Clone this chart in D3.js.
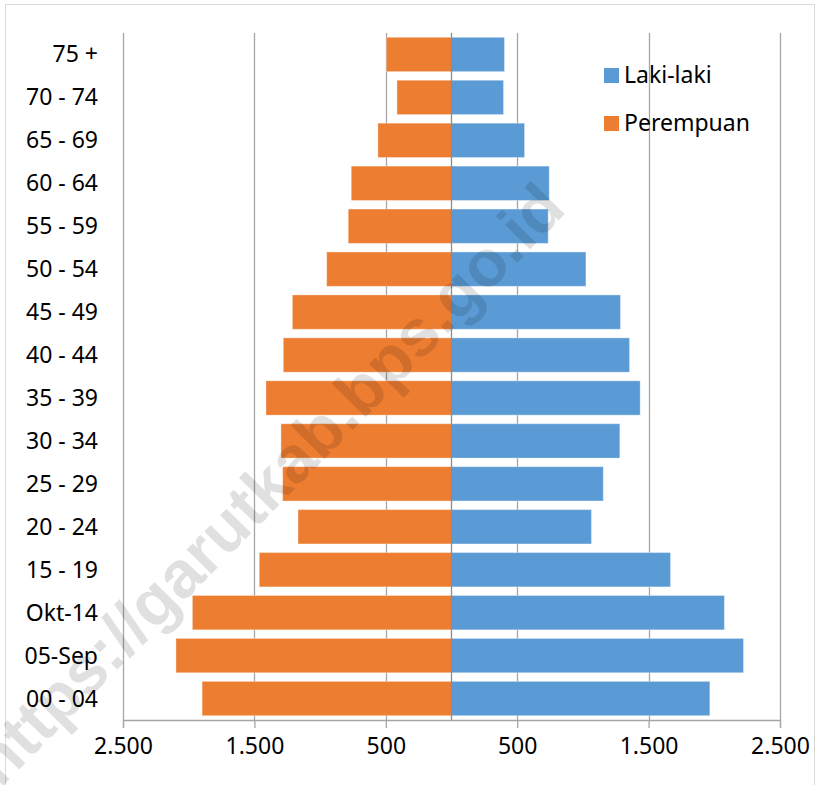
<!DOCTYPE html>
<html>
<head>
<meta charset="utf-8">
<script src="https://cdn.jsdelivr.net/npm/d3@7"></script>
<style>
  body { margin: 0; background: #fff; }
  svg { display: block; font-family: "Noto Sans", sans-serif; }
</style>
</head>
<body>
<svg id="chart" width="821" height="785"></svg>
<script>
// age groups, top of the pyramid first
var ageGroups = ["75 +", "70 - 74", "65 - 69", "60 - 64", "55 - 59", "50 - 54", "45 - 49", "40 - 44",
  "35 - 39", "30 - 34", "25 - 29", "20 - 24", "15 - 19", "Okt-14", "05-Sep", "00 - 04"];
var perempuan = [496, 415, 560, 763, 786, 950, 1211, 1280, 1412, 1298, 1285, 1168, 1463, 1972, 2097, 1898];
var lakiLaki = [403, 396, 556, 744, 736, 1023, 1286, 1355, 1436, 1281, 1155, 1065, 1667, 2077, 2222, 1966];
var tickVals = [-2500, -1500, -500, 500, 1500, 2500];
var seriesNames = ["Laki-laki", "Perempuan"];
var watermark = "https://garutkab.bps.go.id";

var orange = "#ED7D31", blue = "#5B9BD5";

var svg = d3.select("#chart");

// outer chart border
svg.append("rect")
  .attr("x", 5.5).attr("y", 4.5)
  .attr("width", 809).attr("height", 800)
  .attr("fill", "none").attr("stroke", "#D9D9D9");

var x = d3.scaleLinear().domain([-2500, 2500]).range([123, 780]);
var y = d3.scaleBand().domain(ageGroups).range([33, 720])
  .paddingInner(0.2).paddingOuter(0.1);

var fmt = d3.formatLocale({ decimal: ",", thousands: ".", grouping: [3], currency: ["", ""] }).format(",");

// gridlines
svg.append("g").selectAll("line")
  .data(tickVals)
  .enter().append("line")
  .attr("x1", function(d) { return Math.round(x(d)) + 0.5; })
  .attr("x2", function(d) { return Math.round(x(d)) + 0.5; })
  .attr("y1", 33).attr("y2", 720)
  .attr("stroke", "#A6A6A6").attr("stroke-width", 1.3);

// bars
var bars = svg.append("g");
bars.selectAll("rect.p")
  .data(perempuan)
  .enter().append("rect")
  .attr("class", "p")
  .attr("x", function(d) { return x(-d); })
  .attr("y", function(d, i) { return y(ageGroups[i]); })
  .attr("width", function(d) { return x(0) - x(-d); })
  .attr("height", y.bandwidth())
  .attr("fill", orange)
  .attr("stroke", "#fff").attr("stroke-opacity", 0.35);

bars.selectAll("rect.l")
  .data(lakiLaki)
  .enter().append("rect")
  .attr("class", "l")
  .attr("x", x(0))
  .attr("y", function(d, i) { return y(ageGroups[i]); })
  .attr("width", function(d) { return x(d) - x(0); })
  .attr("height", y.bandwidth())
  .attr("fill", blue)
  .attr("stroke", "#fff").attr("stroke-opacity", 0.35);

// center axis line
svg.append("line")
  .attr("x1", x(0)).attr("x2", x(0))
  .attr("y1", 33).attr("y2", 720)
  .attr("stroke", "#8C8C8C").attr("stroke-width", 1.3);

// bottom axis
var xAxis = d3.axisBottom(x)
  .tickValues(tickVals)
  .tickSize(8)
  .tickPadding(10)
  .tickFormat(function(d) { return fmt(Math.abs(d)); });

var gx = svg.append("g")
  .attr("transform", "translate(0,720)")
  .call(xAxis);
gx.select(".domain").attr("stroke", "#A6A6A6").attr("stroke-width", 1.3);
gx.selectAll(".tick line").attr("stroke", "#A6A6A6").attr("stroke-width", 1.3);
gx.selectAll(".tick text")
  .attr("font-family", "Noto Sans, sans-serif")
  .attr("font-size", 23)
  .attr("fill", "#000");

// category labels
svg.append("g").selectAll("text")
  .data(ageGroups)
  .enter().append("text")
  .attr("x", 98)
  .attr("y", function(d) { return y(d) + y.bandwidth() / 2 + 8; })
  .attr("text-anchor", "end")
  .attr("font-size", 23)
  .attr("fill", "#000")
  .text(function(d) { return d; });

// legend
var legend = svg.append("g");
var legendColors = [blue, orange];
legend.selectAll("rect")
  .data(seriesNames)
  .enter().append("rect")
  .attr("x", 604)
  .attr("y", function(d, i) { return 68 + i * 48; })
  .attr("width", 15).attr("height", 15)
  .attr("fill", function(d, i) { return legendColors[i]; });
legend.selectAll("text")
  .data(seriesNames)
  .enter().append("text")
  .attr("x", 624)
  .attr("y", function(d, i) { return 83 + i * 48; })
  .attr("font-size", 23)
  .attr("fill", "#000")
  .text(function(d) { return d; });

// watermark
svg.append("text")
  .attr("transform", "translate(284,500) rotate(-45.5)")
  .attr("text-anchor", "middle")
  .attr("font-family", "Liberation Sans, Arial, sans-serif")
  .attr("font-weight", "bold")
  .attr("font-size", 66)
  .attr("fill", "#000")
  .attr("fill-opacity", 0.12)
  .text(watermark);
</script>
</body>
</html>
